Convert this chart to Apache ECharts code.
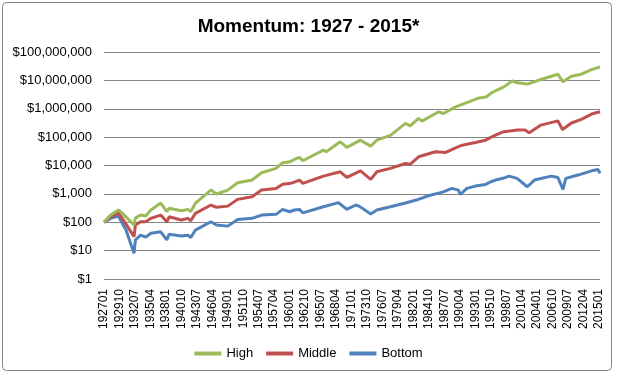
<!DOCTYPE html>
<html>
<head>
<meta charset="utf-8">
<script src="https://cdn.jsdelivr.net/npm/echarts@6/dist/echarts.min.js"></script>
<style>
html,body{margin:0;padding:0;background:#fff;}
#chart{width:617px;height:375px;}
</style>
</head>
<body>
<div id="chart"></div>
<script>
// Month range of the category axis (YYYYMM)
const startYear = 1927, startMonth = 1;
const endYear = 2015, endMonth = 3;

const seriesNames = ['High', 'Middle', 'Bottom'];

// Values, as [YYYYMM, growth of $100]
const highValues = [
  ['192701',100],['192803',179],['192908',270],['193004',210],['193205',80],['193208',140],
  ['193307',179],['193406',166],['193505',270],['193702',475],['193803',235],['193808',310],
  ['194010',255],['194112',284],['194206',240],['194212',350],['194304',470],['194601',1360],
  ['194701',990],['194901',1360],['195010',2450],['195305',3070],['195501',5530],['195708',7900],
  ['195810',12500],['196001',13500],['196011',16300],['196110',19300],['196205',14700],
  ['196601',35000],['196607',30500],['196901',68500],['197003',43600],['197208',78000],
  ['197406',48000],['197507',78000],['197701',100000],['197712',115000],['198008',305000],
  ['198106',250000],['198212',457000],['198307',365000],['198607',780000],['198705',680000],
  ['198907',1170000],['199111',1740000],['199309',2400000],['199412',2600000],['199510',3500000],
  ['199608',4300000],['199802',5900000],['199908',9600000],['200003',8400000],['200204',7400000],
  ['200409',10700000],['200709',16500000],['200808',8900000],['201002',14000000],
  ['201111',16500000],['201309',24000000],['201503',30000000]
];
const middleValues = [
  ['192701',100],['192803',156],['192908',210],['193004',137],['193205',31],['193208',80],
  ['193307',104],['193406',104],['193505',137],['193702',179],['193803',104],['193808',156],
  ['194010',120],['194112',137],['194206',113],['194304',206],['194601',405],['194701',335],
  ['194901',370],['195010',640],['195305',790],['195501',1360],['195708',1560],['195810',2200],
  ['196001',2300],['196011',2600],['196110',3070],['196205',2340],['196601',4230],['196901',6000],
  ['197003',3800],['197208',6500],['197406',3240],['197507',6000],['197712',7900],['198008',11800],
  ['198106',11000],['198212',20300],['198512',30500],['198710',29000],['198907',42000],
  ['199009',52000],['199301',65000],['199411',78000],['199510',98000],['199608',117000],
  ['199802',155000],['200007',178000],['200111',178000],['200208',142000],['200409',265000],
  ['200709',375000],['200807',187000],['201002',315000],['201111',420000],['201309',650000],
  ['201503',780000]
];
const bottomValues = [
  ['192701',100],['192803',137],['192908',166],['193004',92],['193012',53],['193205',8],
  ['193208',24],['193307',35],['193406',30],['193505',41],['193702',46],['193803',24],
  ['193808',38],['194010',33],['194112',35],['194206',29],['194304',53],['194601',104],
  ['194701',80],['194901',73],['195010',126],['195305',137],['195501',179],['195708',190],
  ['195810',284],['196001',235],['196011',270],['196110',284],['196205',215],['196601',350],
  ['196809',490],['197003',284],['197110',405],['197205',370],['197406',195],['197507',270],
  ['197712',350],['198008',475],['198207',605],['198409',860],['198705',1180],['198811',1560],
  ['199001',1360],['199005',950],['199107',1560],['199301',1880],['199411',2150],['199510',2680],
  ['199608',3070],['199712',3530],['199901',4230],['200006',3530],['200204',1780],['200307',3070],
  ['200607',4230],['200709',3800],['200808',1450],['200902',3530],['201104',4600],['201309',6500],
  ['201411',7200],['201503',5300]
];

// Build the monthly category list
const months = [];
for (let y = startYear; y <= endYear; y++) {
  for (let m = 1; m <= 12; m++) {
    if (y === startYear && m < startMonth) continue;
    if (y === endYear && m > endMonth) break;
    months.push(String(y) + (m < 10 ? '0' + m : String(m)));
  }
}

const colors = ['#9BBB59', '#C0504D', '#4F81BD'];
const font = '"Liberation Sans", Arial, sans-serif';

const chart = echarts.init(document.getElementById('chart'), null, {renderer: 'canvas'});
const mkSeries = (name, data, i) => ({
  name: name,
  type: 'line',
  data: data,
  showSymbol: false,
  symbol: 'none',
  lineStyle: {width: 3, color: colors[i]},
  itemStyle: {color: colors[i]},
  emphasis: {disabled: true},
  z: 3 - i
});

chart.setOption({
  animation: false,
  backgroundColor: '#fff',
  title: {
    text: 'Momentum: 1927 - 2015*',
    left: 'center',
    top: 12,
    textStyle: {fontFamily: font, fontWeight: 'bold', fontSize: 19, color: '#000'}
  },
  legend: {
    data: seriesNames,
    left: 'center',
    top: 342,
    icon: 'rect',
    itemWidth: 27,
    itemHeight: 4,
    itemGap: 13,
    textStyle: {fontFamily: font, fontSize: 13, color: '#000'}
  },
  grid: {left: 104, right: 17, top: 52, bottom: 96, containLabel: false},
  xAxis: {
    type: 'category',
    data: months,
    boundaryGap: false,
    axisLine: {show: false},
    axisTick: {show: false},
    splitLine: {show: false},
    axisLabel: {
      interval: 32,
      rotate: 90,
      margin: 10,
      fontFamily: font,
      fontSize: 12,
      color: '#000'
    }
  },
  yAxis: {
    type: 'log',
    logBase: 10,
    min: 1,
    max: 100000000,
    interval: 1,
    splitNumber: 8,
    axisLine: {show: false},
    axisTick: {show: false},
    splitLine: {show: true, lineStyle: {color: '#868686', width: 1}},
    axisLabel: {
      margin: 12,
      fontFamily: font,
      fontSize: 13,
      color: '#000',
      formatter: v => '$' + Math.round(v).toLocaleString('en-US')
    }
  },
  series: [
    mkSeries('High', highValues, 0),
    mkSeries('Middle', middleValues, 1),
    mkSeries('Bottom', bottomValues, 2)
  ],
  graphic: [{
    type: 'rect',
    shape: {x: 2.5, y: 2.5, width: 609, height: 368, r: 4},
    style: {fill: 'none', stroke: '#868686', lineWidth: 1},
    silent: true,
    z: 100
  }]
});
</script>
</body>
</html>
